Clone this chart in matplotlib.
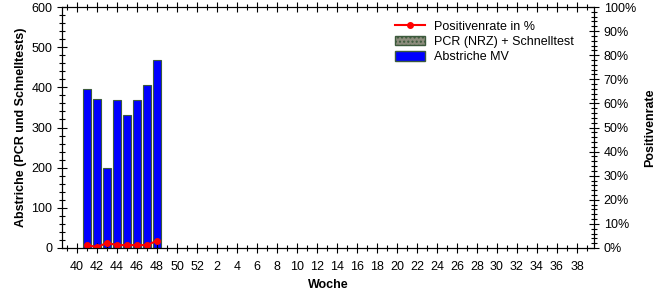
import numpy as np
import matplotlib.pyplot as plt
from matplotlib.ticker import MultipleLocator, FixedLocator, PercentFormatter
from matplotlib.lines import Line2D
from matplotlib.patches import Patch

plt.rcParams['font.family'] = ['Liberation Sans', 'DejaVu Sans']

# Kalenderwochen (Saison 40 .. 39)
weeks = list(range(40, 53)) + list(range(1, 40))
# Abstriche MV, nur Wochen 41-48 vorhanden
swab_weeks = [41, 42, 43, 44, 45, 46, 47, 48]
abstriche_mv = [396, 371, 198, 368, 331, 369, 406, 468]
pcr_schnelltest = [0, 0, 0, 0, 0, 0, 0, 0]
positivenrate = [1.2, 0.4, 2.1, 1.2, 1.2, 1.2, 1.2, 3.0]

idx = [weeks.index(w) for w in swab_weeks]

fig = plt.figure(figsize=(6.66, 3.0), dpi=100)
ax = fig.add_axes([62 / 666, 1 - 248 / 300, (594 - 62) / 666, (248 - 7) / 300])

ax.bar(idx, pcr_schnelltest, width=0.8, color='#8c8c7c', edgecolor='#3c5a3c', linewidth=0.8)
ax.bar(idx, abstriche_mv, width=0.8, bottom=pcr_schnelltest, color='#0000ff',
       edgecolor='#3c5a3c', linewidth=0.8)

ax.set_xlim(-1.5, 51.7)
ax.set_ylim(0, 600)
ax.yaxis.set_major_locator(MultipleLocator(100))
ax.yaxis.set_minor_locator(MultipleLocator(20))
ax.xaxis.set_major_locator(FixedLocator(range(0, len(weeks), 2)))
ax.xaxis.set_minor_locator(MultipleLocator(1))
ax.set_xticklabels([str(w) for w in weeks[::2]])
ax.tick_params(axis='both', which='major', direction='inout', length=7, width=0.8, labelsize=9)
ax.tick_params(axis='both', which='minor', direction='inout', length=4, width=0.8)
ax.tick_params(axis='x', top=True, which='both')
ax.tick_params(axis='x', pad=6)
ax.set_ylabel('Abstriche (PCR und Schnelltests)', fontsize=9, fontweight='bold', labelpad=3)
ax.set_xlabel('Woche', fontsize=9, fontweight='bold', labelpad=4)

ax2 = ax.twinx()
ax2.plot(idx, positivenrate, color='#ff0000', marker='o', markersize=4, linewidth=1.5)
ax2.set_ylim(0, 100)
ax2.yaxis.set_major_locator(MultipleLocator(10))
ax2.yaxis.set_minor_locator(MultipleLocator(2))
ax2.yaxis.set_major_formatter(PercentFormatter(decimals=0))
ax2.tick_params(axis='y', which='major', direction='inout', length=7, width=0.8, labelsize=9)
ax2.tick_params(axis='y', which='minor', direction='inout', length=4, width=0.8)
ax2.set_ylabel('Positivenrate', fontsize=9, fontweight='bold', labelpad=6)

handles = [
    Line2D([0], [0], color='#ff0000', marker='o', markersize=4, linewidth=1.5),
    Patch(facecolor='#8c8c7c', edgecolor='#3c5a3c', hatch='....'),
    Patch(facecolor='#0000ff', edgecolor='#3c5a3c'),
]
labels = ['Positivenrate in %', 'PCR (NRZ) + Schnelltest', 'Abstriche MV']
ax2.legend(handles, labels, loc='upper left', bbox_to_anchor=(0.61, 0.98), frameon=False,
           fontsize=9, handlelength=2.4, handleheight=0.8, handletextpad=0.7,
           labelspacing=0.25, borderpad=0.2)

fig.savefig('out.png', dpi=100)
